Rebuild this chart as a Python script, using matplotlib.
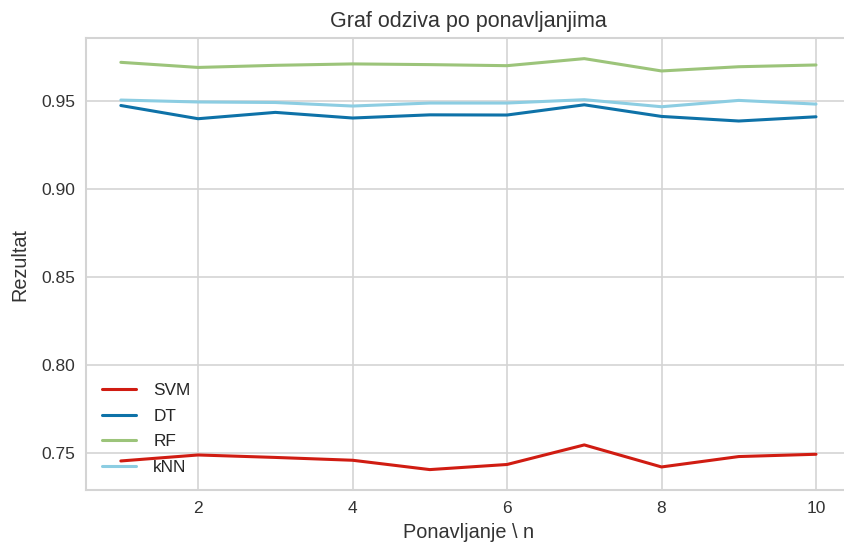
import matplotlib
matplotlib.use("Agg")
import matplotlib.pyplot as plt
import seaborn as sns

runs = [1, 2, 3, 4, 5, 6, 7, 8, 9, 10]
svm = [0.7456, 0.7490, 0.7476, 0.7460, 0.7407, 0.7436, 0.7547, 0.7422, 0.7481, 0.7494]
dt = [0.9473, 0.9398, 0.9434, 0.9402, 0.9420, 0.9419, 0.9477, 0.9411, 0.9385, 0.9409]
rf = [0.9718, 0.9689, 0.9701, 0.9709, 0.9705, 0.9699, 0.9739, 0.9669, 0.9693, 0.9703]
knn = [0.9504, 0.9493, 0.9490, 0.9470, 0.9487, 0.9487, 0.9506, 0.9466, 0.9502, 0.9481]

sns.set_style("whitegrid")
plt.rcParams['font.family'] = ['Liberation Sans', 'DejaVu Sans']

fig, ax = plt.subplots(figsize=(8.44, 5.44), dpi=100)
ax.plot(runs, svm, color="#d01c12", lw=2.2, label="SVM")
ax.plot(runs, dt, color="#0e72a8", lw=2.2, label="DT")
ax.plot(runs, rf, color="#9cc47a", lw=2.2, label="RF")
ax.plot(runs, knn, color="#8ccde2", lw=2.2, label="kNN")

ax.set_title("Graf odziva po ponavljanjima", fontsize=15.5, color="#333333", pad=8)
ax.set_xlabel("Ponavljanje \\ n", fontsize=14.3, color="#333333", labelpad=5)
ax.set_ylabel("Rezultat", fontsize=14.3, color="#333333", labelpad=8)
ax.tick_params(labelsize=12.5, colors="#333333", length=0, pad=8)
for s in ax.spines.values():
    s.set_color("#d4d4d4")
    s.set_linewidth(1.5)
ax.grid(color="#d4d4d4", lw=1.2)
ax.legend(loc="lower left", frameon=False, fontsize=12.4, labelspacing=0.6,
          handletextpad=1.0)

fig.subplots_adjust(left=0.102, right=1.008, top=0.93, bottom=0.099)
fig.savefig("out.png")
